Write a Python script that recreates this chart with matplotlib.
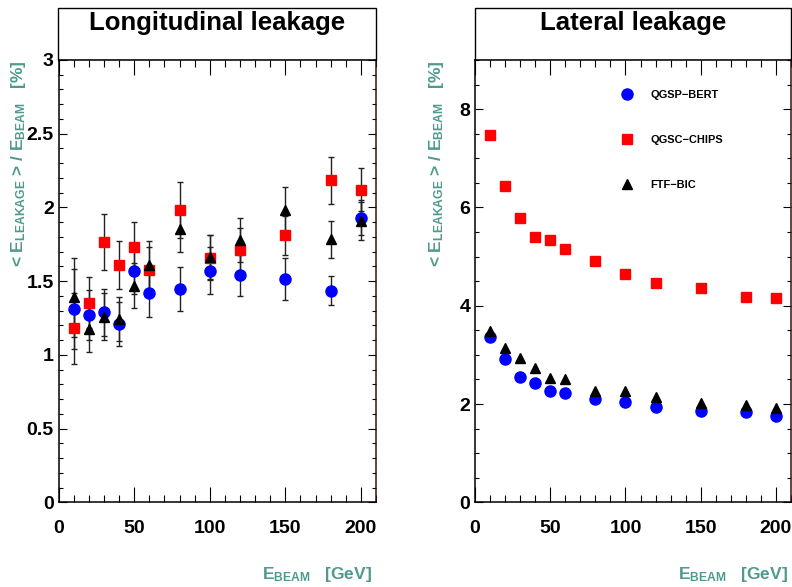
import matplotlib
matplotlib.use("Agg")
import matplotlib.pyplot as plt
from matplotlib.patches import Rectangle
from matplotlib.ticker import MultipleLocator, FormatStrFormatter

plt.rcParams['font.family'] = ['Liberation Sans', 'DejaVu Sans']
plt.rcParams['font.weight'] = 'bold'
plt.rcParams['mathtext.fontset'] = 'custom'
plt.rcParams['mathtext.rm'] = 'Liberation Sans:bold'
plt.rcParams['mathtext.it'] = 'Liberation Sans:bold'
plt.rcParams['mathtext.bf'] = 'Liberation Sans:bold'

# ---------------- data ----------------
energy = [10, 20, 30, 40, 50, 60, 80, 100, 120, 150, 180, 200]
series_names = ["QGSP\u2212BERT", "QGSC\u2212CHIPS", "FTF\u2212BIC"]

# Longitudinal leakage [%]
long_qgsp = [1.31, 1.27, 1.29, 1.21, 1.57, 1.42, 1.445, 1.57, 1.54, 1.515, 1.435, 1.93]
long_qgsp_err = [0.27, 0.17, 0.16, 0.15, 0.16, 0.16, 0.15, 0.16, 0.14, 0.14, 0.10, 0.12]
long_chips = [1.18, 1.355, 1.765, 1.61, 1.735, 1.575, 1.985, 1.66, 1.71, 1.81, 2.185, 2.12]
long_chips_err = [0.24, 0.17, 0.19, 0.165, 0.165, 0.16, 0.19, 0.15, 0.15, 0.13, 0.16, 0.147]
long_ftf = [1.39, 1.175, 1.26, 1.245, 1.47, 1.61, 1.855, 1.665, 1.78, 1.98, 1.785, 1.91]
long_ftf_err = [0.27, 0.155, 0.16, 0.15, 0.15, 0.165, 0.158, 0.15, 0.15, 0.16, 0.125, 0.13]

# Lateral leakage [%]
lat_qgsp = [3.36, 2.92, 2.545, 2.42, 2.26, 2.23, 2.10, 2.04, 1.94, 1.86, 1.84, 1.765]
lat_chips = [7.47, 6.435, 5.78, 5.40, 5.34, 5.16, 4.90, 4.645, 4.455, 4.355, 4.185, 4.15]
lat_ftf = [3.49, 3.145, 2.93, 2.74, 2.53, 2.51, 2.27, 2.265, 2.14, 2.03, 1.975, 1.92]

titles = ["Longitudinal leakage", "Lateral leakage"]
ylabel = "< E$_{\\rm LEAKAGE}$ > / E$_{\\rm BEAM}$   [%]"
xlabel = "E$_{\\rm BEAM}$   [GeV]"

# ---------------- styling ----------------
W, H = 792, 587
teal = '#4f9a8d'
colors = ['#0000ff', '#ff0000', '#000000']
markers = ['o', 's', '^']
msizes = [8, 7.6, 7.6]

fig = plt.figure(figsize=(W / 100, H / 100), dpi=100)


def px_rect(x0, y0, x1, y1):
    return [x0 / W, 1 - y1 / H, (x1 - x0) / W, (y1 - y0) / H]


ax1 = fig.add_axes(px_rect(58.7, 60, 376, 502.3))
ax2 = fig.add_axes(px_rect(475, 60, 791, 502.3))

# title boxes
for (x0, x1), title in zip([(58.3, 376), (474.5, 791)], titles):
    rect = Rectangle((x0 / W, 1 - 60 / H), (x1 - x0) / W, (60 - 8) / H,
                     transform=fig.transFigure, fill=True, fc='white',
                     ec='black', lw=1.0, zorder=0)
    fig.add_artist(rect)
    fig.text((x0 + x1) / 2 / W, 1 - 23 / H, title, ha='center', va='center',
             fontsize=18.5, fontweight='bold')

# left panel
long_vals = [long_qgsp, long_chips, long_ftf]
long_errs = [long_qgsp_err, long_chips_err, long_ftf_err]
for vals, errs in zip(long_vals, long_errs):
    ax1.errorbar(energy, vals, yerr=errs, fmt='none', ecolor='#222222',
                 elinewidth=1.0, capsize=2.2, capthick=1.0, zorder=2)
for vals, c, m, ms in zip(long_vals, colors, markers, msizes):
    ax1.plot(energy, vals, linestyle='none', marker=m, color=c, ms=ms,
             mec=c, zorder=3)

# right panel
lat_vals = [lat_qgsp, lat_chips, lat_ftf]
handles = []
for vals, c, m, ms, name in zip(lat_vals, colors, markers, msizes, series_names):
    h, = ax2.plot(energy, vals, linestyle='none', marker=m, color=c, ms=ms,
                  mec=c, zorder=3, label=name)
    handles.append(h)

ax1.set_xlim(0, 210)
ax1.set_ylim(0, 3)
ax2.set_xlim(0, 210)
ax2.set_ylim(0, 9)

ax1.yaxis.set_major_locator(MultipleLocator(0.5))
ax1.yaxis.set_minor_locator(MultipleLocator(0.1))
ax2.yaxis.set_major_locator(MultipleLocator(2))
ax2.yaxis.set_minor_locator(MultipleLocator(0.5))

for ax in (ax1, ax2):
    ax.xaxis.set_major_locator(MultipleLocator(50))
    ax.xaxis.set_minor_locator(MultipleLocator(10))
    ax.xaxis.set_major_formatter(FormatStrFormatter('%g'))
    ax.yaxis.set_major_formatter(FormatStrFormatter('%g'))
    ax.tick_params(which='both', direction='in', top=True, right=True,
                   width=0.8, color='black')
    ax.tick_params(axis='x', which='major', length=10.8, pad=12.5,
                   labelsize=14)
    ax.tick_params(axis='x', which='minor', length=5.3)
    ax.tick_params(axis='y', which='major', length=5.8, pad=3.5,
                   labelsize=14)
    ax.tick_params(axis='y', which='minor', length=3.2)
    for lab in ax.get_xticklabels() + ax.get_yticklabels():
        lab.set_fontweight('bold')
    for s in ax.spines.values():
        s.set_linewidth(1.1)
    ax.spines['right'].set_color('#3a1010')

# axis labels
for xpos in (18.5, 436):
    fig.text(xpos / W, 1 - 60 / H, ylabel, rotation=90, ha='center',
             va='top', color=teal, fontsize=12.5, fontweight='bold')
for xr in (371.5, 788):
    fig.text(xr / W, 1 - 575 / H, xlabel, ha='right', va='center',
             color=teal, fontsize=12.5, fontweight='bold')

# legend
ax2.legend(handles=handles, loc='upper left',
           bbox_to_anchor=(621.5 / W, 1 - 89.5 / H),
           bbox_transform=fig.transFigure, frameon=False,
           prop={'family': 'Liberation Sans', 'weight': 'bold', 'size': 7.9},
           handlelength=1.0, handletextpad=1.65, labelspacing=3.2,
           borderpad=0, borderaxespad=0, numpoints=1)

fig.savefig('out.png', dpi=100)
